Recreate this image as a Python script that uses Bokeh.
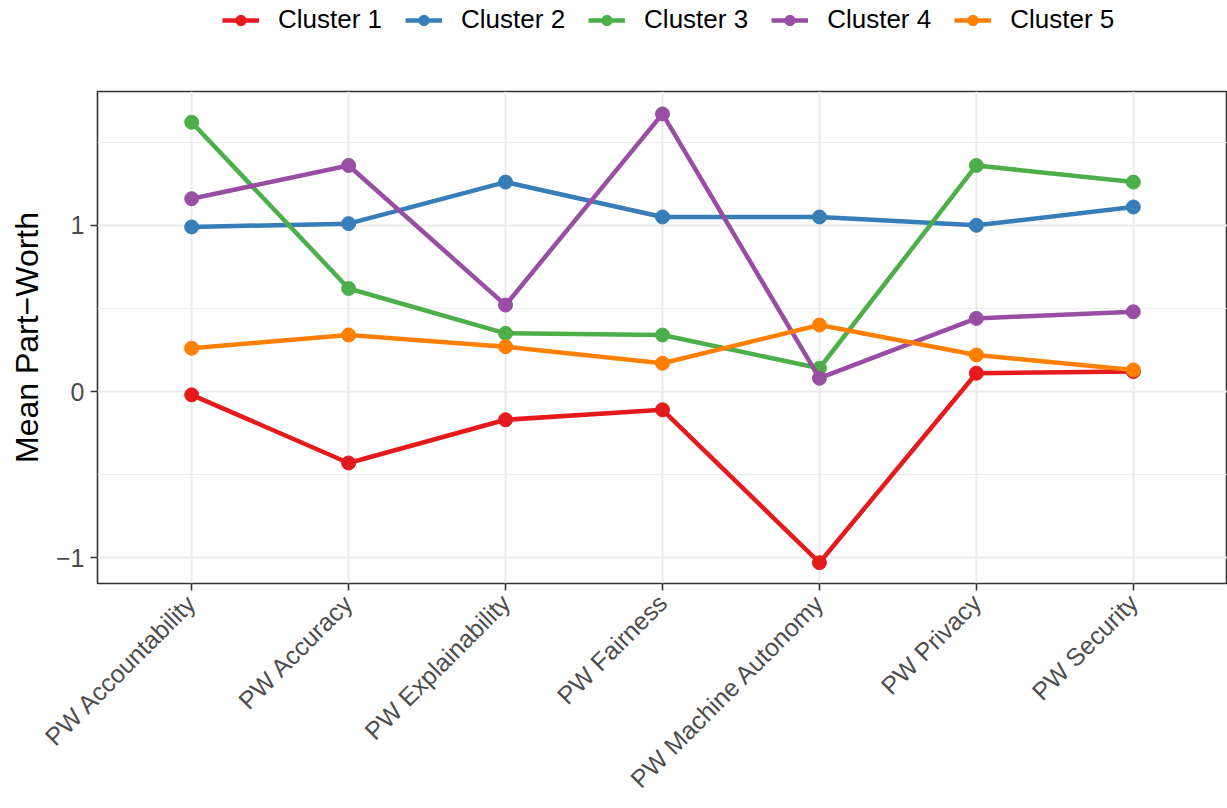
import math
from bokeh.plotting import figure
from bokeh.layouts import column
from bokeh.models import FixedTicker, Legend, LegendItem, Range1d
from bokeh.embed import file_html
from bokeh.resources import INLINE

categories = ["PW Accountability", "PW Accuracy", "PW Explainability", "PW Fairness",
              "PW Machine Autonomy", "PW Privacy", "PW Security"]
cluster_names = ["Cluster 1", "Cluster 2", "Cluster 3", "Cluster 4", "Cluster 5"]
cluster1 = [-0.02, -0.43, -0.17, -0.11, -1.03, 0.11, 0.12]
cluster2 = [0.99, 1.01, 1.26, 1.05, 1.05, 1.00, 1.11]
cluster3 = [1.62, 0.62, 0.35, 0.34, 0.14, 1.36, 1.26]
cluster4 = [1.16, 1.36, 0.52, 1.67, 0.08, 0.44, 0.48]
cluster5 = [0.26, 0.34, 0.27, 0.17, 0.40, 0.22, 0.13]
colors = ["#E41A1C", "#377EB8", "#4DAF4A", "#984EA3", "#FF7F00"]
y_ticks = [-1, 0, 1]
y_tick_labels = ["\u22121", "0", "1"]

series = [cluster1, cluster2, cluster3, cluster4, cluster5]
xs = list(range(len(categories)))

FONT = "Liberation Sans"
Y0, Y1 = -1.155, 1.805
LEG_H = 40
LINE_W = 4.5
PT_SIZE = 14
LEFT = 97

# ---- legend strip (separate figure so the legend is not clipped by the plot frame)
top = figure(width=1227, height=LEG_H, output_backend="svg", toolbar_location=None,
             x_axis_type=None, y_axis_type=None, x_range=Range1d(0, 1), y_range=Range1d(0, 1),
             min_border_left=LEFT, min_border_right=0, min_border_top=0, min_border_bottom=0)
top.outline_line_color = None
top.xgrid.visible = False
top.ygrid.visible = False

items = []
for name, vals, col in zip(cluster_names, series, colors):
    l = top.line(xs, vals, line_color=col, line_width=LINE_W, visible=False)
    s = top.scatter(xs, vals, size=PT_SIZE - 2, fill_color=col, line_color=col, visible=False)
    items.append(LegendItem(label=name, renderers=[l, s]))

legend = Legend(items=items, orientation="horizontal", location=(222 - LEFT, 5),
                label_text_font=FONT, label_text_font_size="26px", label_text_color="#000000",
                glyph_width=37, glyph_height=26, label_height=26, spacing=23, label_standoff=19,
                border_line_color=None, background_fill_alpha=0, padding=0, margin=0)
top.add_layout(legend, "center")

# ---- main plot
p = figure(width=1227, height=808 - LEG_H, output_backend="svg", toolbar_location=None,
           x_range=Range1d(-0.6, len(categories) - 1 + 0.6),
           y_range=Range1d(Y0, Y1),
           min_border_left=LEFT, min_border_right=0, min_border_top=91 - LEG_H, min_border_bottom=225)

for name, vals, col in zip(cluster_names, series, colors):
    p.line(xs, vals, line_color=col, line_width=LINE_W)
    p.scatter(xs, vals, size=PT_SIZE, fill_color=col, line_color=col)

p.outline_line_color = "#333333"
p.outline_line_width = 1.6

p.xaxis.ticker = FixedTicker(ticks=xs)
p.xaxis.major_label_overrides = {i: c for i, c in enumerate(categories)}
p.xaxis.major_label_orientation = math.pi / 4
p.yaxis.ticker = FixedTicker(ticks=y_ticks, minor_ticks=[-0.5, 0.5, 1.5])
p.yaxis.major_label_overrides = {t: l for t, l in zip(y_ticks, y_tick_labels)}

for ax in (p.xaxis, p.yaxis):
    ax.axis_line_color = None
    ax.major_tick_line_color = "#333333"
    ax.major_tick_line_width = 1.6
    ax.major_tick_out = 7
    ax.major_tick_in = 0
    ax.minor_tick_line_color = None
    ax.major_label_text_font = FONT
    ax.major_label_text_font_size = "25px"
    ax.major_label_text_color = "#4D4D4D"
    ax.major_label_standoff = 6
p.xaxis.major_label_standoff = 8

p.yaxis.axis_label = "Mean Part\u2212Worth"
p.yaxis.axis_label_text_font = FONT
p.yaxis.axis_label_text_font_size = "32px"
p.yaxis.axis_label_text_font_style = "normal"
p.yaxis.axis_label_text_color = "#000000"
p.yaxis.axis_label_standoff = 8

p.xgrid.grid_line_color = "#EBEBEB"
p.xgrid.grid_line_width = 2
p.ygrid.grid_line_color = "#EBEBEB"
p.ygrid.grid_line_width = 2
p.ygrid.minor_grid_line_color = "#EBEBEB"
p.ygrid.minor_grid_line_width = 1

open("out.html", "w").write(file_html(column(top, p, spacing=0), INLINE))
